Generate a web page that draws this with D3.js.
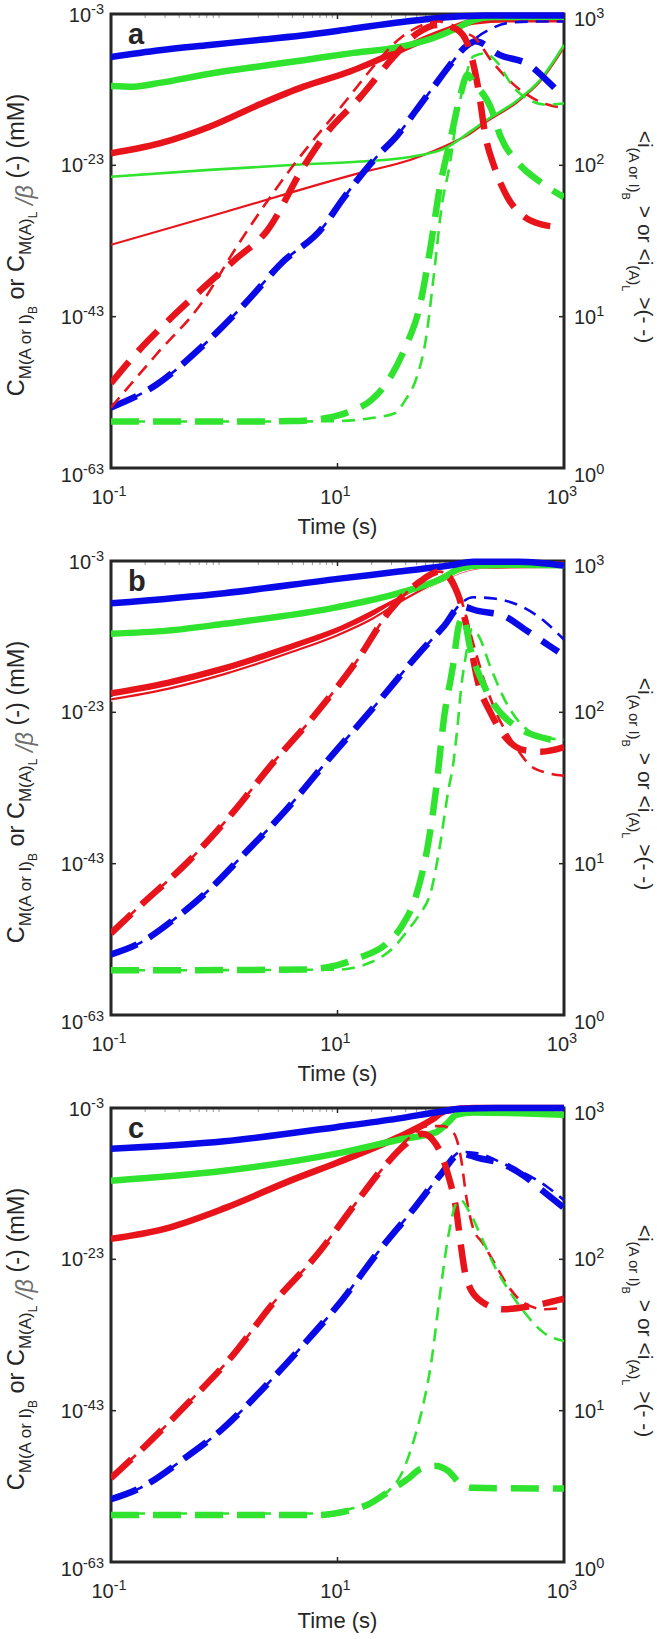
<!DOCTYPE html>
<html><head><meta charset="utf-8">
<script src="https://cdn.jsdelivr.net/npm/d3@7"></script>
<style>
body{margin:0;background:#fff;}
svg{display:block;}
text{font-family:"Liberation Sans",Arial,Helvetica,sans-serif;fill:#262626;}
</style></head><body>
<svg id="chart" width="657" height="1639"></svg>
<script>
// ---- data: points are [log10(time s), log10(value)] ----
// Panel a
const aBlueSolid  = [[-1,-8.68],[-0.57,-7.8],[-0.13,-7.1],[0.32,-6.4],[0.76,-5.7],[1.11,-5.0],[1.55,-4.1],[2.0,-3.4],[2.3,-3.2],[3,-3.2]];
const aGreenSolid = [[-1,-12.5],[-0.8,-12.6],[-0.57,-12.1],[-0.13,-10.9],[0.32,-9.9],[0.7,-9.1],[1.11,-8.2],[1.55,-7.35],[1.84,-6.2],[2.05,-4.9],[2.2,-3.8],[2.37,-3.4],[3,-3.35]];
const aRedSolid   = [[-1,-21.4],[-0.57,-20.1],[-0.13,-17.9],[0.32,-14.9],[0.7,-12.6],[1.11,-10.6],[1.55,-7.8],[1.79,-6.2],[2.0,-5.0],[2.2,-4.0],[2.5,-3.7],[3,-3.7]];
const aGreenThin  = [[-1,-24.5],[-0.13,-23.6],[0.67,-22.9],[1.2,-22.5],[1.64,-21.9],[1.97,-20.6],[2.14,-18.9],[2.32,-17.0],[2.59,-14.4],[2.79,-11.7],[3,-7.1]];
const aRedThin    = [[-1,-33.5],[0,-29.2],[1.2,-24.0],[1.64,-22.3],[2.06,-19.7],[2.14,-19.1],[2.32,-17.2],[2.59,-14.6],[2.79,-11.9],[3,-7.4]];
const aBlueDashThick  = [[-1,0.40],[-0.6,0.55],[-0.2,0.8],[0.2,1.1],[0.5,1.35],[0.87,1.59],[1.05,1.78],[1.35,2.06],[1.53,2.2],[1.7,2.37],[1.85,2.52],[2.0,2.67],[2.14,2.79],[2.22,2.82],[2.43,2.73],[2.7,2.66],[2.85,2.56],[3,2.45]];
const aBlueDashThin   = [[-1,0.40],[-0.6,0.55],[-0.2,0.8],[0.2,1.1],[0.5,1.35],[0.87,1.59],[1.05,1.78],[1.35,2.06],[1.53,2.2],[1.7,2.37],[1.85,2.52],[2.0,2.67],[2.14,2.79],[2.22,2.84],[2.35,2.9],[2.5,2.94],[2.7,2.95],[3,2.95]];
const aRedDashThick   = [[-1,0.56],[-0.75,0.78],[-0.5,0.97],[-0.2,1.18],[0.1,1.38],[0.38,1.57],[0.7,1.99],[0.9,2.21],[1.2,2.45],[1.5,2.72],[1.7,2.87],[1.9,2.93],[2.05,2.9],[2.15,2.8],[2.24,2.52],[2.31,2.18],[2.38,2.0],[2.5,1.79],[2.65,1.66],[2.8,1.61],[3,1.59]];
const aRedDashThin    = [[-1,0.40],[-0.6,0.75],[-0.2,1.09],[0.1,1.45],[0.34,1.72],[0.6,1.99],[1.1,2.45],[1.28,2.62],[1.57,2.85],[1.9,2.95],[2.05,2.89],[2.2,2.85],[2.37,2.68],[2.61,2.50],[2.86,2.40],[3,2.38]];
const aGreenDashThick = [[-1,0.307],[0,0.307],[0.6,0.31],[0.9,0.33],[1.1,0.37],[1.3,0.45],[1.45,0.58],[1.6,0.8],[1.72,1.05],[1.83,1.5],[1.9,1.84],[2.0,2.18],[2.08,2.45],[2.15,2.6],[2.2,2.55],[2.36,2.37],[2.44,2.19],[2.59,2.02],[2.79,1.89],[3,1.79]];
const aGreenDashThin  = [[-1,0.307],[0.5,0.307],[1.0,0.31],[1.3,0.33],[1.5,0.36],[1.6,0.45],[1.7,0.6],[1.78,0.85],[1.85,1.27],[1.92,1.73],[1.99,2.0],[2.05,2.3],[2.12,2.55],[2.2,2.72],[2.3,2.74],[2.41,2.68],[2.55,2.52],[2.7,2.43],[2.85,2.40],[3,2.41]];
// Panel b
const bBlueSolid  = [[-1,-8.6],[0,-7.25],[1,-5.36],[1.54,-4.4],[2.0,-3.57],[2.2,-3.1],[2.6,-3.1],[3,-3.6]];
const bGreenSolid = [[-1,-12.6],[-0.5,-12.2],[0,-11.3],[1,-9.1],[1.54,-7.25],[1.91,-5.4],[2.09,-3.94],[2.28,-3.57],[2.6,-3.5],[3,-3.55]];
const bRedSolid   = [[-1,-20.5],[-0.5,-19.1],[0,-17.2],[0.6,-14.3],[1.0,-12.2],[1.54,-8.2],[1.91,-5.4],[2.09,-4.2],[2.3,-3.6],[3,-3.5]];
const bRedThin    = [[-1,-21.3],[-0.5,-19.9],[0,-17.95],[0.6,-15.0],[1.0,-12.8],[1.3,-10.7],[1.54,-8.5],[1.91,-5.5],[2.09,-4.25],[2.3,-3.65],[3,-3.55]];
const bBlueDashThick  = [[-1,0.40],[-0.76,0.47],[-0.43,0.64],[-0.13,0.83],[0.17,1.06],[0.54,1.35],[0.91,1.68],[1.35,2.06],[1.72,2.39],[1.94,2.57],[2.09,2.70],[2.24,2.67],[2.46,2.64],[2.65,2.55],[2.83,2.46],[2.95,2.4]];
const bBlueDashThin   = [[-1,0.40],[-0.76,0.47],[-0.43,0.64],[-0.13,0.83],[0.17,1.06],[0.54,1.35],[0.91,1.68],[1.35,2.06],[1.72,2.39],[1.94,2.57],[2.09,2.72],[2.2,2.76],[2.4,2.75],[2.65,2.69],[2.83,2.6],[3,2.48]];
const bRedDashThick   = [[-1,0.54],[-0.76,0.71],[-0.31,1.02],[0.09,1.35],[0.39,1.63],[0.83,2.01],[1.17,2.34],[1.46,2.67],[1.72,2.86],[1.9,2.93],[2.02,2.85],[2.09,2.72],[2.17,2.46],[2.24,2.2],[2.35,2.0],[2.5,1.82],[2.65,1.75],[2.8,1.74],[3,1.77]];
const bRedDashThin    = [[-1,0.54],[-0.76,0.71],[-0.31,1.02],[0.09,1.35],[0.39,1.63],[0.83,2.01],[1.17,2.34],[1.46,2.67],[1.72,2.86],[1.9,2.93],[2.0,2.9],[2.09,2.75],[2.2,2.45],[2.3,2.2],[2.4,2.0],[2.55,1.8],[2.7,1.65],[2.85,1.6],[3,1.58]];
const bGreenDashThick = [[-1,0.295],[0.7,0.3],[1.0,0.33],[1.2,0.38],[1.43,0.47],[1.57,0.59],[1.69,0.78],[1.80,1.13],[1.87,1.49],[1.94,1.96],[2.02,2.31],[2.07,2.57],[2.11,2.63],[2.17,2.43],[2.31,2.15],[2.57,1.91],[2.94,1.81],[3,1.8]];
const bGreenDashThin  = [[-1,0.295],[1.0,0.30],[1.3,0.35],[1.5,0.45],[1.62,0.56],[1.72,0.66],[1.83,0.83],[1.9,1.1],[1.98,1.49],[2.02,1.65],[2.06,1.91],[2.09,2.15],[2.13,2.36],[2.19,2.55],[2.25,2.5],[2.35,2.3],[2.5,2.05],[2.65,1.9],[2.85,1.83],[3,1.82]];
// Panel c
const cBlueSolid  = [[-1,-8.4],[0,-7.4],[1,-5.5],[1.53,-4.4],[1.9,-3.5],[2.09,-3.1],[2.4,-3.0],[3,-3.0]];
const cGreenSolid = [[-1,-12.6],[0,-11.3],[1,-9.0],[1.57,-7.1],[1.87,-6.2],[1.97,-5.0],[2.05,-3.9],[2.2,-3.6],[3,-3.9]];
const cRedSolid   = [[-1,-20.3],[-0.51,-18.9],[0.01,-16.2],[0.6,-12.5],[1.0,-10.2],[1.53,-6.9],[1.83,-4.6],[1.95,-3.4],[2.2,-3.0],[3,-3.0]];
const cBlueDashThick  = [[-1,0.415],[-0.74,0.49],[-0.36,0.68],[-0.03,0.87],[0.31,1.12],[0.68,1.42],[1.05,1.74],[1.35,2.04],[1.68,2.34],[1.9,2.55],[2.09,2.70],[2.24,2.67],[2.46,2.63],[2.65,2.55],[2.8,2.46],[3,2.34]];
const cBlueDashThin   = [[-1,0.415],[-0.74,0.49],[-0.36,0.68],[-0.03,0.87],[0.31,1.12],[0.68,1.42],[1.05,1.74],[1.35,2.04],[1.68,2.34],[1.9,2.55],[2.09,2.71],[2.24,2.7],[2.5,2.62],[2.7,2.55],[2.85,2.48],[3,2.39]];
const cRedDashThick   = [[-1,0.554],[-0.72,0.75],[-0.32,1.05],[0.08,1.37],[0.42,1.70],[0.83,2.04],[1.16,2.37],[1.42,2.62],[1.6,2.76],[1.75,2.83],[1.87,2.76],[1.98,2.55],[2.05,2.32],[2.09,2.09],[2.13,1.9],[2.24,1.74],[2.46,1.67],[2.7,1.69],[3,1.74]];
const cRedDashThin    = [[-1,0.554],[-0.72,0.75],[-0.32,1.05],[0.08,1.37],[0.42,1.70],[0.83,2.04],[1.16,2.37],[1.42,2.62],[1.6,2.78],[1.8,2.88],[1.93,2.88],[2.03,2.83],[2.09,2.67],[2.14,2.4],[2.2,2.2],[2.28,2.11],[2.39,1.97],[2.5,1.83],[2.63,1.72],[2.83,1.67],[3,1.68]];
const cGreenDashThick = [[-1,0.31],[0.8,0.31],[1.1,0.34],[1.27,0.38],[1.46,0.47],[1.64,0.56],[1.72,0.61],[1.87,0.635],[1.98,0.6],[2.08,0.52],[2.2,0.49],[3,0.485]];
const cGreenDashThin  = [[-1,0.32],[0.8,0.32],[1.2,0.37],[1.42,0.45],[1.57,0.59],[1.68,0.82],[1.76,1.05],[1.83,1.33],[1.9,1.74],[1.98,2.16],[2.05,2.37],[2.09,2.39],[2.16,2.32],[2.28,2.13],[2.39,1.95],[2.5,1.81],[2.65,1.65],[2.83,1.51],[3,1.46]];

// ---- tick labels ----
const xTickVals = [0.1, 10, 1000];
const xTickExps = ["-1", "1", "3"];
const leftTickVals = [1e-3, 1e-23, 1e-43, 1e-63];
const leftTickExps = ["-3", "-23", "-43", "-63"];
const rightTickVals = [1000, 100, 10, 1];
const rightTickExps = ["3", "2", "1", "0"];
const panelLabels = ["a", "b", "c"];

// ---- styles ----
const BLUE = "#0a0ae8", GREEN = "#2fe32f", RED = "#e8141c";
const THICK = 6.5, THIN = 2.2;
const DASH_THICK = "28,14", DASH_THIN = "13,8";

const panels = [
  {series:[
    {d:aRedThin,c:RED,w:THIN,ax:"L"},{d:aGreenThin,c:GREEN,w:2.6,ax:"L"},
    {d:aRedSolid,c:RED,w:THICK,ax:"L"},{d:aGreenSolid,c:GREEN,w:THICK,ax:"L"},{d:aBlueSolid,c:BLUE,w:THICK,ax:"L"},
    {d:aBlueDashThin,c:BLUE,w:THIN+0.4,ax:"R",dash:DASH_THIN},{d:aBlueDashThick,c:BLUE,w:THICK,ax:"R",dash:DASH_THICK},
    {d:aRedDashThin,c:RED,w:THIN+0.4,ax:"R",dash:DASH_THIN},{d:aRedDashThick,c:RED,w:THICK,ax:"R",dash:DASH_THICK},
    {d:aGreenDashThin,c:GREEN,w:THIN+0.4,ax:"R",dash:DASH_THIN},{d:aGreenDashThick,c:GREEN,w:THICK,ax:"R",dash:DASH_THICK}
  ]},
  {series:[
    {d:bRedSolid,c:RED,w:THICK,ax:"L"},{d:bRedThin,c:"#fff",w:4.6,ax:"L"},{d:bRedThin,c:RED,w:THIN,ax:"L"},
    {d:bGreenSolid,c:GREEN,w:THICK,ax:"L"},{d:bBlueSolid,c:BLUE,w:THICK,ax:"L"},
    {d:bBlueDashThin,c:BLUE,w:THIN+0.4,ax:"R",dash:DASH_THIN},{d:bBlueDashThick,c:BLUE,w:THICK,ax:"R",dash:DASH_THICK},
    {d:bRedDashThin,c:RED,w:THIN+0.4,ax:"R",dash:DASH_THIN},{d:bRedDashThick,c:RED,w:THICK,ax:"R",dash:DASH_THICK},
    {d:bGreenDashThin,c:GREEN,w:THIN+0.4,ax:"R",dash:DASH_THIN},{d:bGreenDashThick,c:GREEN,w:THICK,ax:"R",dash:DASH_THICK}
  ]},
  {series:[
    {d:cRedSolid,c:RED,w:THICK,ax:"L"},{d:cGreenSolid,c:GREEN,w:THICK,ax:"L"},{d:cBlueSolid,c:BLUE,w:THICK,ax:"L"},
    {d:cBlueDashThin,c:BLUE,w:THIN+0.4,ax:"R",dash:DASH_THIN},{d:cBlueDashThick,c:BLUE,w:THICK,ax:"R",dash:DASH_THICK},
    {d:cRedDashThin,c:RED,w:THIN+0.4,ax:"R",dash:DASH_THIN},{d:cRedDashThick,c:RED,w:THICK,ax:"R",dash:DASH_THICK},
    {d:cGreenDashThin,c:GREEN,w:THIN+0.4,ax:"R",dash:DASH_THIN},{d:cGreenDashThick,c:GREEN,w:THICK,ax:"R",dash:DASH_THICK}
  ]}
];

// ---- layout ----
const X0 = 111, W = 453, H = 454;
const TOPS = [14, 561, 1108];
const INK = "#262626";

const svg = d3.select("#chart");
const x = d3.scaleLog().domain([0.1, 1000]).range([0, W]);
const yL = d3.scaleLog().domain([1e-63, 1e-3]).range([H, 0]);
const yR = d3.scaleLog().domain([1, 1000]).range([H, 0]);

function supLabel(sel, base, exp, anchor){
  const t = sel.append("text").attr("text-anchor", anchor).attr("font-size", 20);
  t.append("tspan").text(base);
  t.append("tspan").attr("dy", -8).attr("font-size", 14.5).text(exp);
  return t;
}

panels.forEach((p, pi) => {
  const g = svg.append("g").attr("transform", `translate(${X0},${TOPS[pi]})`);
  const clipId = "clip" + pi;
  g.append("clipPath").attr("id", clipId).append("rect")
    .attr("x", 0).attr("y", -5).attr("width", W).attr("height", H + 10);

  // minor x ticks (top)
  const minor = [];
  [0.1, 1, 10, 100].forEach(dec => { for (let k = 2; k <= 9; k++) minor.push(dec * k); });
  g.selectAll(".mt").data(minor).enter().append("line")
    .attr("x1", d => x(d)).attr("x2", d => x(d)).attr("y1", 1).attr("y2", 4)
    .attr("stroke", "#9a9a9a").attr("stroke-width", 1);
  // major ticks
  g.selectAll(".xt").data(xTickVals).enter().append("line")
    .attr("x1", d => x(d)).attr("x2", d => x(d)).attr("y1", H).attr("y2", H - 5)
    .attr("stroke", INK).attr("stroke-width", 1.5);
  g.selectAll(".xt2").data(xTickVals).enter().append("line")
    .attr("x1", d => x(d)).attr("x2", d => x(d)).attr("y1", 0).attr("y2", 5)
    .attr("stroke", INK).attr("stroke-width", 1.5);
  g.selectAll(".lt").data(leftTickVals).enter().append("line")
    .attr("x1", 0).attr("x2", 5).attr("y1", d => yL(d)).attr("y2", d => yL(d))
    .attr("stroke", INK).attr("stroke-width", 1.5);
  g.selectAll(".rt").data(rightTickVals).enter().append("line")
    .attr("x1", W).attr("x2", W - 5).attr("y1", d => yR(d)).attr("y2", d => yR(d))
    .attr("stroke", INK).attr("stroke-width", 1.5);

  // frame
  g.append("rect").attr("x", 0).attr("y", 0).attr("width", W).attr("height", H)
    .attr("fill", "none").attr("stroke", INK).attr("stroke-width", 3);

  // curves
  const cg = g.append("g").attr("clip-path", `url(#${clipId})`);
  p.series.forEach(s => {
    const ys = s.ax === "L" ? yL : yR;
    const line = d3.line()
      .x(d => x(Math.pow(10, d[0])))
      .y(d => ys(Math.pow(10, d[1])))
      .curve(d3.curveMonotoneX);
    cg.append("path").attr("d", line(s.d))
      .attr("fill", "none").attr("stroke", s.c).attr("stroke-width", s.w)
      .attr("stroke-dasharray", s.dash || null)
      .attr("stroke-linecap", "butt").attr("stroke-linejoin", "round");
  });

  // tick labels
  xTickVals.forEach((v, i) => {
    supLabel(g, "10", xTickExps[i], "middle").attr("x", x(v) - 2).attr("y", H + 36);
  });
  leftTickVals.forEach((v, i) => {
    const off = i === 0 ? 8 : (i === leftTickVals.length - 1 ? 14 : 7);
    supLabel(g, "10", leftTickExps[i], "end").attr("x", -7).attr("y", yL(v) + off);
  });
  rightTickVals.forEach((v, i) => {
    const off = i === 0 ? 12 : (i === rightTickVals.length - 1 ? 14 : 7);
    supLabel(g, "10", rightTickExps[i], "start").attr("x", W + 10).attr("y", yR(v) + off);
  });

  // axis title
  g.append("text").attr("x", W / 2).attr("y", H + 66).attr("text-anchor", "middle")
    .attr("font-size", 22).text("Time (s)");

  // left y label
  const ly = g.append("text").attr("transform", `translate(${24 - X0},${H / 2 + 4}) rotate(-90)`)
    .attr("text-anchor", "middle").attr("font-size", 23.5);
  ly.append("tspan").text("C");
  ly.append("tspan").attr("dy", 7).attr("font-size", 17).text("M(A or I)");
  ly.append("tspan").attr("dy", 6).attr("font-size", 12).text("B");
  ly.append("tspan").attr("dy", -13).text(" or C");
  ly.append("tspan").attr("dy", 7).attr("font-size", 17).text("M(A)");
  ly.append("tspan").attr("dy", 6).attr("font-size", 12).text("L");
  ly.append("tspan").attr("dy", -4).attr("fill", "#6e6e6e").attr("font-style", "italic").text(" /β");
  ly.append("tspan").attr("dy", -9).text(" (-) (mM)");

  // right y label
  const ry = g.append("text").attr("transform", `translate(${638 - X0},${H / 2 - 4}) rotate(90)`)
    .attr("text-anchor", "middle").attr("font-size", 21);
  ry.append("tspan").text("<i");
  ry.append("tspan").attr("dy", 9).attr("font-size", 15).text("(A or I)");
  ry.append("tspan").attr("dy", 7).attr("font-size", 11).text("B");
  ry.append("tspan").attr("dy", -16).text(" > or <i");
  ry.append("tspan").attr("dy", 9).attr("font-size", 15).text("(A)");
  ry.append("tspan").attr("dy", 7).attr("font-size", 11).text("L");
  ry.append("tspan").attr("dy", -16).text(" >(- -)");

  // panel letter
  g.append("text").attr("x", 17).attr("y", 30).attr("font-size", 29)
    .attr("font-weight", "bold").attr("fill", "#0a0a14").text(panelLabels[pi]);
});
</script></body></html>
